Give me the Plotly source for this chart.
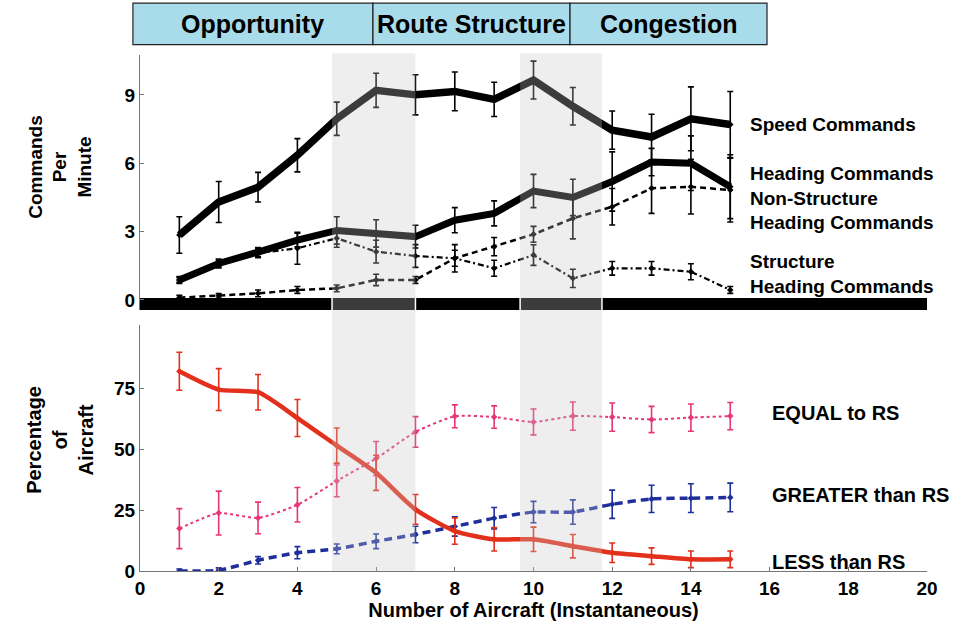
import plotly.graph_objects as go
from plotly.subplots import make_subplots

aircraft = list(range(1, 16))

# top panel: commands per minute
speed = [2.85, 4.3, 4.95, 6.35, 7.95, 9.2, 9.0, 9.15, 8.8, 9.65, 8.5, 7.45, 7.15, 7.95, 7.7]
speed_err = [0.8, 0.9, 0.65, 0.73, 0.73, 0.75, 0.88, 0.85, 0.75, 0.83, 0.82, 0.84, 1.0, 1.4, 1.45]
heading = [0.88, 1.6, 2.1, 2.63, 3.05, 2.92, 2.78, 3.5, 3.8, 4.78, 4.5, 5.2, 6.05, 6.0, 4.97]
heading_err = [0.15, 0.2, 0.2, 0.3, 0.6, 0.6, 0.5, 0.55, 0.55, 0.73, 0.8, 1.3, 0.6, 1.2, 1.4]
nonstruct = [0.1, 0.18, 0.29, 0.44, 0.51, 0.88, 0.88, 1.83, 2.34, 2.88, 3.58, 4.09, 4.9, 4.97, 4.82]
nonstruct_err = [0.1, 0.1, 0.15, 0.15, 0.15, 0.25, 0.15, 0.35, 0.4, 0.35, 0.9, 0.8, 1.1, 1.2, 1.4]
struct = [0.88, 1.6, 2.05, 2.27, 2.71, 2.12, 1.93, 1.83, 1.39, 1.97, 0.95, 1.39, 1.39, 1.24, 0.44]
struct_err = [0.1, 0.15, 0.2, 0.7, 0.4, 0.5, 0.5, 0.6, 0.35, 0.45, 0.4, 0.3, 0.3, 0.35, 0.15]

# bottom panel: percentage of aircraft
less = [82, 74.5, 73.4, 62.8, 51.5, 40.3, 25.3, 16.4, 13, 13, 10.2, 7.5, 6.1, 4.8, 4.8]
less_err = [7.8, 8.6, 7.3, 7.6, 7.2, 7.2, 6.1, 5.4, 4.8, 5, 4.8, 4, 3.4, 3.4, 3.4]
equal = [17.4, 23.8, 21.8, 27.2, 37, 46.2, 57.1, 63.5, 63.2, 61.2, 63.6, 63.2, 62.2, 63, 63.6]
equal_err = [8.2, 9, 6.5, 7.1, 6.5, 7, 6.3, 4.7, 4.6, 5.3, 5.8, 5.8, 5.4, 5.6, 5.6]
greater = [0, 0.3, 4.4, 7.5, 9.1, 12.2, 15, 18.3, 21.7, 24.2, 24.2, 27.4, 29.6, 29.9, 30.2]
greater_err = [0.8, 1, 1.5, 2.5, 2, 3, 3.4, 4, 4.4, 4.4, 5, 5.8, 5.6, 5.9, 5.9]

phases = ['Opportunity', 'Route Structure', 'Congestion']
phase_edges = [-0.009, 0.296, 0.5464, 0.7967]   # paper x
shade_spans = [(4.88, 7.0), (9.66, 11.74)]

FONT = 'Liberation Sans, Arial, sans-serif'

fig = make_subplots(rows=2, cols=1, shared_xaxes=True)


def add_series(y, err, row, color, width, dash, shape='linear'):
    fig.add_trace(go.Scatter(
        x=aircraft, y=y, mode='lines+markers',
        line=dict(color=color, width=width, dash=dash, shape=shape, smoothing=0.6),
        marker=dict(symbol='diamond', size=5, color=color),
        error_y=dict(type='data', array=err, color=color, thickness=1.6, width=3),
        showlegend=False), row=row, col=1)


add_series(nonstruct, nonstruct_err, 1, 'black', 2.5, '6px,4px')
add_series(struct, struct_err, 1, 'black', 2.2, '6px,3px,2px,3px')
add_series(heading, heading_err, 1, 'black', 7, 'solid')
add_series(speed, speed_err, 1, 'black', 7.5, 'solid')

add_series(equal, equal_err, 2, '#e8357a', 2, 'dot', 'spline')
add_series(greater, greater_err, 2, '#1e2f9c', 3.5, '8px,5px', 'spline')
add_series(less, less_err, 2, '#e2301c', 4.5, 'solid', 'spline')

shapes = []
# thick black separator on the zero line of the top panel
shapes.append(dict(type='rect', xref='x', yref='y', x0=0, x1=20, y0=-0.44, y1=0.09,
                   fillcolor='black', line=dict(width=0), layer='below'))
# grey bands for the transitions
for a, b in shade_spans:
    shapes.append(dict(type='rect', xref='x', yref='paper', x0=a, x1=b, y0=0, y1=0.91,
                       fillcolor='rgba(200,200,200,0.3)', line=dict(width=0), layer='above'))
    for edge in (a, b):
        shapes.append(dict(type='line', xref='x', yref='y', x0=edge, x1=edge, y0=-0.44, y1=0.09,
                           line=dict(color='white', width=1.5), layer='above'))
# header boxes
for i in range(3):
    shapes.append(dict(type='rect', xref='paper', yref='paper',
                       x0=phase_edges[i], x1=phase_edges[i + 1], y0=0.925, y1=0.998,
                       fillcolor='#a9dcea', line=dict(color='#222', width=1.2)))

annotations = []
for i, name in enumerate(phases):
    annotations.append(dict(x=(phase_edges[i] + phase_edges[i + 1]) / 2, y=0.961,
                            xref='paper', yref='paper', text=name, showarrow=False,
                            xanchor='center', yanchor='middle',
                            font=dict(family=FONT, size=25, color='black', weight='bold')))

top_labels = [('Speed Commands', 7.72), ('Heading Commands', 5.57), ('Non-Structure', 4.47),
              ('Heading Commands', 3.42), ('Structure', 1.67), ('Heading Commands', 0.61)]
for text, yv in top_labels:
    annotations.append(dict(x=15.45, y=yv, xref='x', yref='y', text=text, showarrow=False,
                            xanchor='left', yanchor='middle',
                            font=dict(family=FONT, size=19, color='black', weight='bold')))

bottom_labels = [('EQUAL to RS', 64.8), ('GREATER than RS', 31.1), ('LESS than RS', 3.7)]
for text, yv in bottom_labels:
    annotations.append(dict(x=16.0, y=yv, xref='x', yref='y2', text=text, showarrow=False,
                            xanchor='left', yanchor='middle',
                            font=dict(family=FONT, size=20, color='black', weight='bold')))

annotations.append(dict(x=-0.102, y=0.71, xref='paper', yref='paper', text='Commands<br>Per<br>Minute',
                        textangle=-90, showarrow=False, xanchor='center', yanchor='middle',
                        font=dict(family=FONT, size=19, color='black', weight='bold')))
annotations.append(dict(x=-0.102, y=0.23, xref='paper', yref='paper', text='Percentage<br>of<br>Aircraft',
                        textangle=-90, showarrow=False, xanchor='center', yanchor='middle',
                        font=dict(family=FONT, size=20, color='black', weight='bold')))

tickfont = dict(family=FONT, size=19, color='black', weight='bold')

fig.update_layout(
    width=953, height=623,
    margin=dict(l=140, r=26, t=2, b=52),
    plot_bgcolor='white', paper_bgcolor='white',
    shapes=shapes, annotations=annotations,
    font=dict(family=FONT, color='black'),
)
fig.update_xaxes(range=[0, 20], dtick=2, showgrid=False, zeroline=False)
fig.update_xaxes(showticklabels=False, showline=False, ticks='', row=1, col=1)
fig.update_xaxes(showline=True, linecolor='#777', linewidth=1, ticks='inside', ticklen=4,
                 tickcolor='#777', tickfont=tickfont,
                 title=dict(text='Number of Aircraft (Instantaneous)', standoff=0,
                            font=dict(family=FONT, size=20, color='black', weight='bold')),
                 row=2, col=1)
fig.update_yaxes(domain=[0.4587, 0.9069], range=[-0.44, 10.75], tickvals=[0, 3, 6, 9],
                 showgrid=False, zeroline=False, showline=True, linecolor='#777', linewidth=1,
                 ticks='inside', ticklen=4, tickcolor='#777', tickfont=tickfont, row=1, col=1)
fig.update_yaxes(domain=[0, 0.4323], range=[0, 101], tickvals=[0, 25, 50, 75],
                 showgrid=False, zeroline=False, showline=True, linecolor='#777', linewidth=1,
                 ticks='inside', ticklen=4, tickcolor='#777', tickfont=tickfont, row=2, col=1)

fig.write_html('out.html', config={'displayModeBar': False},
               post_script="document.body.style.margin='0px';")
